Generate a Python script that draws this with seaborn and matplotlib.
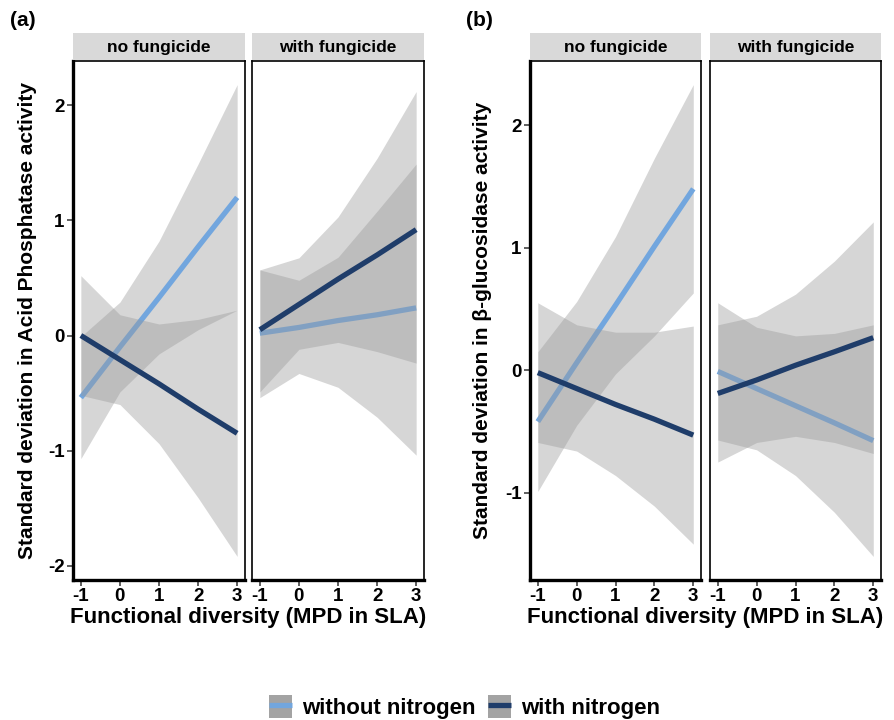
import matplotlib
matplotlib.use("Agg")
import matplotlib.pyplot as plt
import numpy as np
import pandas as pd
import seaborn as sns
from matplotlib.lines import Line2D
from matplotlib.patches import Patch
from matplotlib.legend_handler import HandlerTuple

# MPD in SLA values where the model was predicted
x_pts = [-1, 0, 1, 2, 3]
facets = ["no fungicide", "with fungicide"]
groups = ["without nitrogen", "with nitrogen"]

# (a) acid phosphatase, no fungicide
acp_nf_wo_fit = [-0.54, -0.10, 0.33, 0.77, 1.20]
acp_nf_wo_lo = [-1.07, -0.49, -0.16, 0.05, 0.22]
acp_nf_wo_hi = [-0.01, 0.29, 0.82, 1.49, 2.18]
acp_nf_w_fit = [0.00, -0.21, -0.42, -0.64, -0.85]
acp_nf_w_lo = [-0.52, -0.60, -0.94, -1.41, -1.92]
acp_nf_w_hi = [0.52, 0.18, 0.10, 0.14, 0.22]
# (a) acid phosphatase, with fungicide
acp_f_wo_fit = [0.02, 0.07, 0.13, 0.18, 0.24]
acp_f_wo_lo = [-0.54, -0.33, -0.45, -0.71, -1.04]
acp_f_wo_hi = [0.57, 0.48, 0.68, 1.08, 1.49]
acp_f_w_fit = [0.05, 0.27, 0.49, 0.70, 0.92]
acp_f_w_lo = [-0.49, -0.12, -0.06, -0.14, -0.24]
acp_f_w_hi = [0.57, 0.675, 1.03, 1.54, 2.12]

# (b) beta-glucosidase, no fungicide
bg_nf_wo_fit = [-0.42, 0.06, 0.53, 1.01, 1.48]
bg_nf_wo_lo = [-0.99, -0.45, -0.03, 0.28, 0.63]
bg_nf_wo_hi = [0.15, 0.56, 1.09, 1.73, 2.33]
bg_nf_w_fit = [-0.02, -0.15, -0.28, -0.40, -0.53]
bg_nf_w_lo = [-0.59, -0.66, -0.86, -1.11, -1.42]
bg_nf_w_hi = [0.55, 0.37, 0.31, 0.31, 0.36]
# (b) beta-glucosidase, with fungicide
bg_f_wo_fit = [-0.01, -0.15, -0.29, -0.43, -0.575]
bg_f_wo_lo = [-0.57, -0.65, -0.86, -1.16, -1.52]
bg_f_wo_hi = [0.55, 0.35, 0.28, 0.30, 0.37]
bg_f_w_fit = [-0.19, -0.08, 0.04, 0.15, 0.265]
bg_f_w_lo = [-0.75, -0.59, -0.54, -0.59, -0.68]
bg_f_w_hi = [0.37, 0.44, 0.62, 0.89, 1.21]

acp_yticks = [-2, -1, 0, 1, 2]
bg_yticks = [-1, 0, 1, 2]
x_ticks = [-1, 0, 1, 2, 3]

colors = {"without nitrogen": "#72a6de", "with nitrogen": "#1f3d6a"}
RIBBON = "#999999"


def _frame(enzyme, series):
    rows = []
    for facet, group, fit, lo, hi in series:
        for x, f, l, h in zip(x_pts, fit, lo, hi):
            rows.append(dict(enzyme=enzyme, facet=facet, group=group,
                             mpd=x, fit=f, lo=l, hi=h))
    return pd.DataFrame(rows)


df = pd.concat([
    _frame("acp", [
        ("no fungicide", "without nitrogen", acp_nf_wo_fit, acp_nf_wo_lo, acp_nf_wo_hi),
        ("no fungicide", "with nitrogen", acp_nf_w_fit, acp_nf_w_lo, acp_nf_w_hi),
        ("with fungicide", "without nitrogen", acp_f_wo_fit, acp_f_wo_lo, acp_f_wo_hi),
        ("with fungicide", "with nitrogen", acp_f_w_fit, acp_f_w_lo, acp_f_w_hi),
    ]),
    _frame("bg", [
        ("no fungicide", "without nitrogen", bg_nf_wo_fit, bg_nf_wo_lo, bg_nf_wo_hi),
        ("no fungicide", "with nitrogen", bg_nf_w_fit, bg_nf_w_lo, bg_nf_w_hi),
        ("with fungicide", "without nitrogen", bg_f_wo_fit, bg_f_wo_lo, bg_f_wo_hi),
        ("with fungicide", "with nitrogen", bg_f_w_fit, bg_f_w_lo, bg_f_w_hi),
    ]),
], ignore_index=True)

sns.set_theme(style="white")
plt.rcParams["font.family"] = ["Liberation Sans", "DejaVu Sans"]
plt.rcParams["font.weight"] = "bold"
plt.rcParams["text.color"] = "black"
plt.rcParams["xtick.color"] = "black"
plt.rcParams["ytick.color"] = "black"

fig = plt.figure(figsize=(8.95, 7.2), dpi=100)


def draw_group(enzyme, lefts, width, ylabel, yticks, tag, tag_x, ylab_x):
    sub = df[df.enzyme == enzyme]
    span = sub.hi.max() - sub.lo.min()
    ylim = (sub.lo.min() - 0.05 * span, sub.hi.max() + 0.05 * span)
    bottom, height = 0.1944, 0.7208
    for i, (facet, left) in enumerate(zip(facets, lefts)):
        ax = fig.add_axes([left, bottom, width, height])
        z = 1
        for group in groups:
            d = sub[(sub.facet == facet) & (sub.group == group)]
            ax.fill_between(d.mpd, d.lo, d.hi, color=RIBBON, alpha=0.4,
                            linewidth=0, zorder=z)
            sns.lineplot(data=d, x="mpd", y="fit", color=colors[group],
                         linewidth=3.8, ax=ax, zorder=z + 1,
                         solid_capstyle="butt")
            z += 2
        ax.set_xlim(-1.2, 3.2)
        ax.set_ylim(*ylim)
        ax.set_xticks(x_ticks)
        ax.set_xticklabels([str(t) for t in x_ticks], fontsize=13.5,
                           fontweight="bold")
        ax.set_yticks(yticks)
        ax.set_xlabel("")
        ax.set_ylabel("")
        ax.tick_params(axis="both", direction="out", length=4, width=1.1,
                       color="#333333", labelcolor="black", pad=2,
                       bottom=True, left=True)
        if i == 0:
            ax.set_yticklabels([str(t) for t in yticks], fontsize=13.5,
                               fontweight="bold")
        else:
            ax.tick_params(axis="y", left=False, labelleft=False)
        for name, sp in ax.spines.items():
            sp.set_color("black")
            sp.set_visible(True)
            sp.set_linewidth(1.2)
        ax.spines["bottom"].set_linewidth(2.4)
        if i == 0:
            ax.spines["left"].set_linewidth(2.4)
        # facet strip
        strip = fig.add_axes([left, 0.9167, width, 0.037])
        strip.set_facecolor("#d9d9d9")
        strip.set_xticks([])
        strip.set_yticks([])
        for sp in strip.spines.values():
            sp.set_visible(False)
        strip.text(0.5, 0.45, facet, ha="center", va="center", fontsize=12.5,
                   fontweight="bold", color="black", transform=strip.transAxes)
    mid = (lefts[0] + lefts[1] + width) / 2
    fig.text(mid, 0.142, "Functional diversity (MPD in SLA)", ha="center",
             va="center", fontsize=16, fontweight="bold", color="black")
    fig.text(ylab_x, bottom + height / 2, ylabel, ha="center", va="center",
             rotation=90, fontsize=15, fontweight="bold", color="black")
    fig.text(tag_x, 0.972, tag, ha="left", va="center", fontsize=15,
             fontweight="bold", color="black")


draw_group("acp", [0.0816, 0.2816], 0.1921,
           "Standard deviation in Acid Phosphatase activity",
           acp_yticks, "(a)", 0.011, 0.031)
draw_group("bg", [0.5922, 0.7933], 0.1911,
           "Standard deviation in \u03b2-glucosidase activity",
           bg_yticks, "(b)", 0.521, 0.539)

handles = [(Patch(facecolor="#a3a3a3", edgecolor="none"),
            Line2D([], [], color=colors[g], linewidth=3.8,
                   solid_capstyle="butt")) for g in groups]
leg = fig.legend(handles, groups, loc="center", bbox_to_anchor=(0.519, 0.018),
                 ncol=2, frameon=False,
                 handler_map={tuple: HandlerTuple(ndivide=1, pad=0)},
                 handlelength=1.0, handleheight=1.2, handletextpad=0.45,
                 columnspacing=0.6, prop={"size": 16, "weight": "bold"})
for t in leg.get_texts():
    t.set_color("black")

fig.savefig("out.png", dpi=100)
